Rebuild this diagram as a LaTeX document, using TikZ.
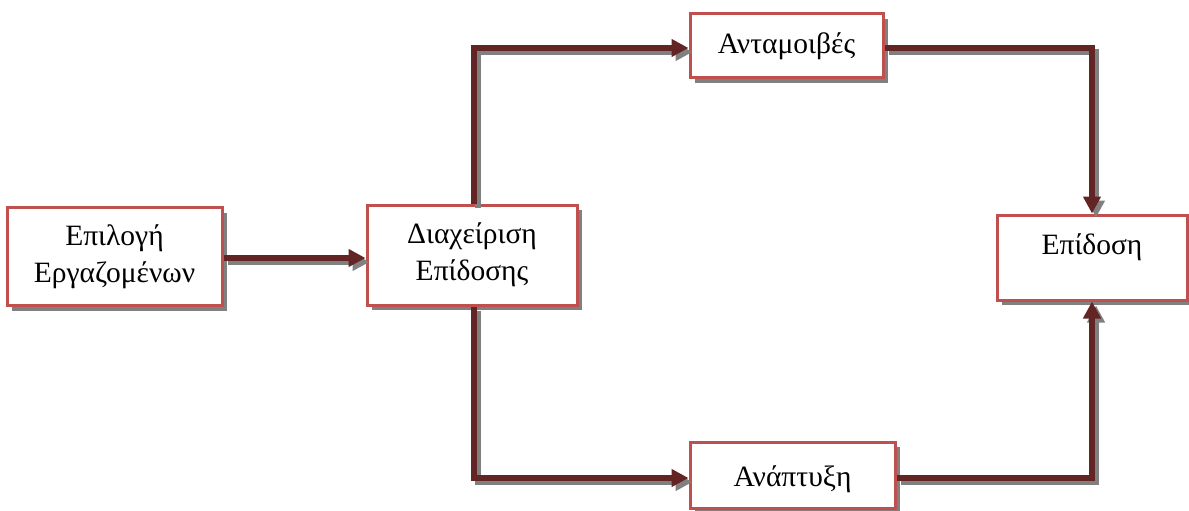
\documentclass[tikz,border=0pt]{standalone}
\usepackage{fontspec}
\setmainfont{Liberation Serif}
\usetikzlibrary{arrows.meta,shadows}
\definecolor{boxred}{HTML}{C0504D}
\definecolor{flowred}{HTML}{632523}
\definecolor{shade}{HTML}{808080}
\tikzset{
  box/.style={draw=boxred, line width=3pt, fill=white, inner sep=0pt,
    align=center, font=\fontsize{29.5}{37}\selectfont,
    general shadow={shadow xshift=5pt, shadow yshift=-5pt, fill=shade, draw=none}},
  flow/.style={draw=flowred, line width=5.5pt, miter limit=10,
    -{Triangle[length=17pt,width=17pt]}},
  flowshade/.style={draw=shade, line width=5.5pt, miter limit=10,
    -{Triangle[length=17pt,width=17pt]},
    transform canvas={shift={(4pt,-4pt)}}},
}
\begin{document}
\begin{tikzpicture}[x=1pt,y=-1pt]
\useasboundingbox (0,0) rectangle (1189,511);

\node[box, minimum width=215pt, minimum height=98pt] (sel) at (114.5,256.5)
  {Επιλογή\\Εργαζομένων};
\node[box, minimum width=210pt, minimum height=100pt] (mgmt) at (472,255)
  {Διαχείριση\\Επίδοσης};
\node[box, minimum width=193pt, minimum height=64pt] (rew) at (786.5,46)
  {Ανταμοιβές};
\node[box, minimum width=190pt, minimum height=85pt] (perf) at (1092,257.5)
  {};
\node[font=\fontsize{29.5}{37}\selectfont] (perflabel) at (1092,247) {Επίδοση};
\node[box, minimum width=205pt, minimum height=66pt, text height=29pt,
  text depth=6pt] (dev) at (792.5,475) {Ανάπτυξη};

\coordinate (ur) at (474,48);
\coordinate (lr) at (474,478);
\coordinate (uc) at (1092,48);
\coordinate (lc) at (1092,478);

% shadows of the connectors
\draw[flowshade] (sel.east |- 0,258) -- (mgmt.west |- 0,258);
\draw[flowshade] (mgmt.north -| ur) -- (ur) -- (rew.west |- ur);
\draw[flowshade] (rew.east |- uc) -- (uc) -- (perf.north -| uc);
\draw[flowshade] (mgmt.south -| lr) -- (lr) -- (dev.west |- lr);
\draw[flowshade] (dev.east |- lc) -- (lc) -- (perf.south -| lc);

% connectors
\draw[flow] (sel.east |- 0,258) -- (mgmt.west |- 0,258);
\draw[flow] (mgmt.north -| ur) -- (ur) -- (rew.west |- ur);
\draw[flow] (rew.east |- uc) -- (uc) -- (perf.north -| uc);
\draw[flow] (mgmt.south -| lr) -- (lr) -- (dev.west |- lr);
\draw[flow] (dev.east |- lc) -- (lc) -- (perf.south -| lc);
\end{tikzpicture}
\end{document}
